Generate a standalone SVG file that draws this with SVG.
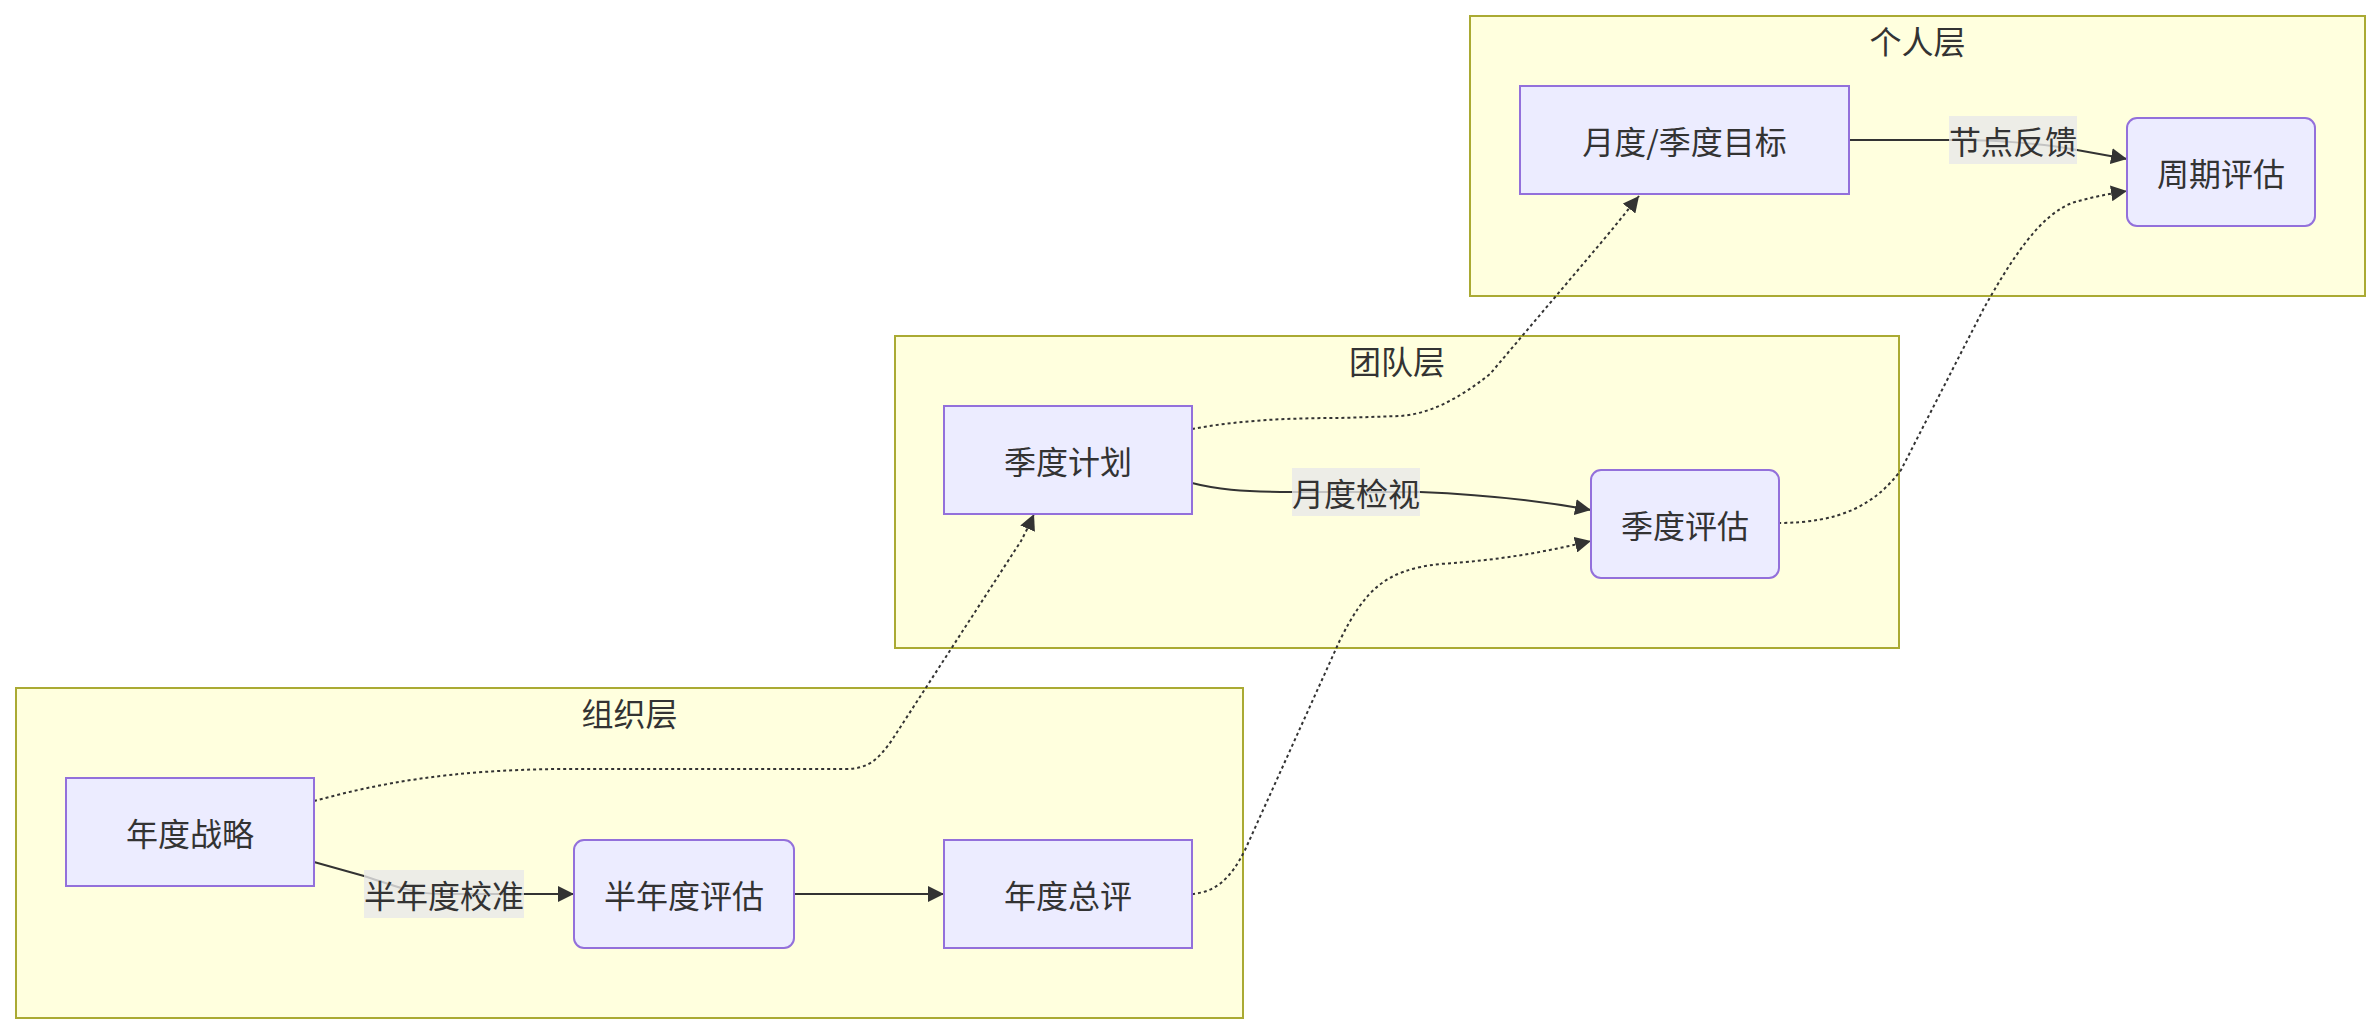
<svg xmlns="http://www.w3.org/2000/svg" width="2380" height="1034" viewBox="0 0 2380 1034">
<style>
.cluster rect{fill:#ffffde;stroke:#aaaa33;stroke-width:2}
.node rect{fill:#ececff;stroke:#9370db;stroke-width:2}
text{font-family:"Noto Sans CJK SC","Noto Sans",sans-serif;font-size:32px;fill:#333;text-anchor:middle;dominant-baseline:central}
.edge{fill:none;stroke:#333;stroke-width:2}
.dotted{stroke-dasharray:3 3}
.lbl rect{fill:#e8e8e8;fill-opacity:0.8}
</style>
<defs>
<marker id="arr" markerUnits="userSpaceOnUse" viewBox="0 0 16 16" refX="16" refY="8" markerWidth="16" markerHeight="16" orient="auto">
<path d="M0,0 L16,8 L0,16 z" fill="#333"/>
</marker>
</defs>
<rect width="2380" height="1034" fill="#ffffff"/>
<g id="cluster-person" class="cluster"><rect x="1470" y="16" width="895" height="280"/><text x="1917.5" y="40">个人层</text></g>
<g id="cluster-team" class="cluster"><rect x="895" y="336" width="1004" height="312"/><text x="1397" y="360">团队层</text></g>
<g id="cluster-org" class="cluster"><rect x="16" y="688" width="1227" height="330"/><text x="629.5" y="712">组织层</text></g>
<g id="edges">
<path class="edge" d="M314,862 L364,876 C390,884 410,894 444,894 L574,894" marker-end="url(#arr)"/>
<path class="edge" d="M794,894 L944,894" marker-end="url(#arr)"/>
<path class="edge" d="M1192,483 C1215,489 1240,492 1292,492 L1420,492 C1470,494 1530,499 1591,510" marker-end="url(#arr)"/>
<path class="edge" d="M1849,140 L1960,140 C1990,140 2040,143 2077,150 L2127,159" marker-end="url(#arr)"/>
<path class="edge dotted" d="M314,801 C380,783 450,770 560,769 L845,769 C868,769 878,760 892,740 L1021,541 Q1027,530 1034,514" marker-end="url(#arr)"/>
<path class="edge dotted" d="M1192,894 C1215,892 1230,880 1245,850 L1340,640 C1365,590 1385,570 1440,564 C1500,560 1540,553 1591,541" marker-end="url(#arr)"/>
<path class="edge dotted" d="M1192,429 C1240,420 1290,418 1340,418 L1400,416 C1430,414 1460,398 1490,374 L1600,244 Q1620,220 1639,196" marker-end="url(#arr)"/>
<path class="edge dotted" d="M1778,523 C1840,523 1875,505 1901,470 L1984,308 C2010,262 2040,213 2075,202 Q2100,195 2127,191" marker-end="url(#arr)"/>
<g class="lbl"><rect x="364" y="870" width="160" height="48"/><text x="444" y="894">半年度校准</text></g>
<g class="lbl"><rect x="1292" y="468" width="128" height="48"/><text x="1356" y="492">月度检视</text></g>
<g class="lbl"><rect x="1949" y="116" width="128" height="48"/><text x="2013" y="140">节点反馈</text></g>
</g>
<g id="node-annual-strategy" class="node"><rect x="66" y="778" width="248" height="108"/><text x="190" y="832">年度战略</text></g>
<g id="node-half-year-eval" class="node"><rect x="574" y="840" width="220" height="108" rx="10" ry="10"/><text x="684" y="894">半年度评估</text></g>
<g id="node-annual-review" class="node"><rect x="944" y="840" width="248" height="108"/><text x="1068" y="894">年度总评</text></g>
<g id="node-quarter-plan" class="node"><rect x="944" y="406" width="248" height="108"/><text x="1068" y="460">季度计划</text></g>
<g id="node-quarter-eval" class="node"><rect x="1591" y="470" width="188" height="108" rx="10" ry="10"/><text x="1685" y="524">季度评估</text></g>
<g id="node-monthly-goal" class="node"><rect x="1520" y="86" width="329" height="108"/><text x="1684.5" y="140">月度/季度目标</text></g>
<g id="node-period-eval" class="node"><rect x="2127" y="118" width="188" height="108" rx="10" ry="10"/><text x="2221" y="172">周期评估</text></g>
</svg>
